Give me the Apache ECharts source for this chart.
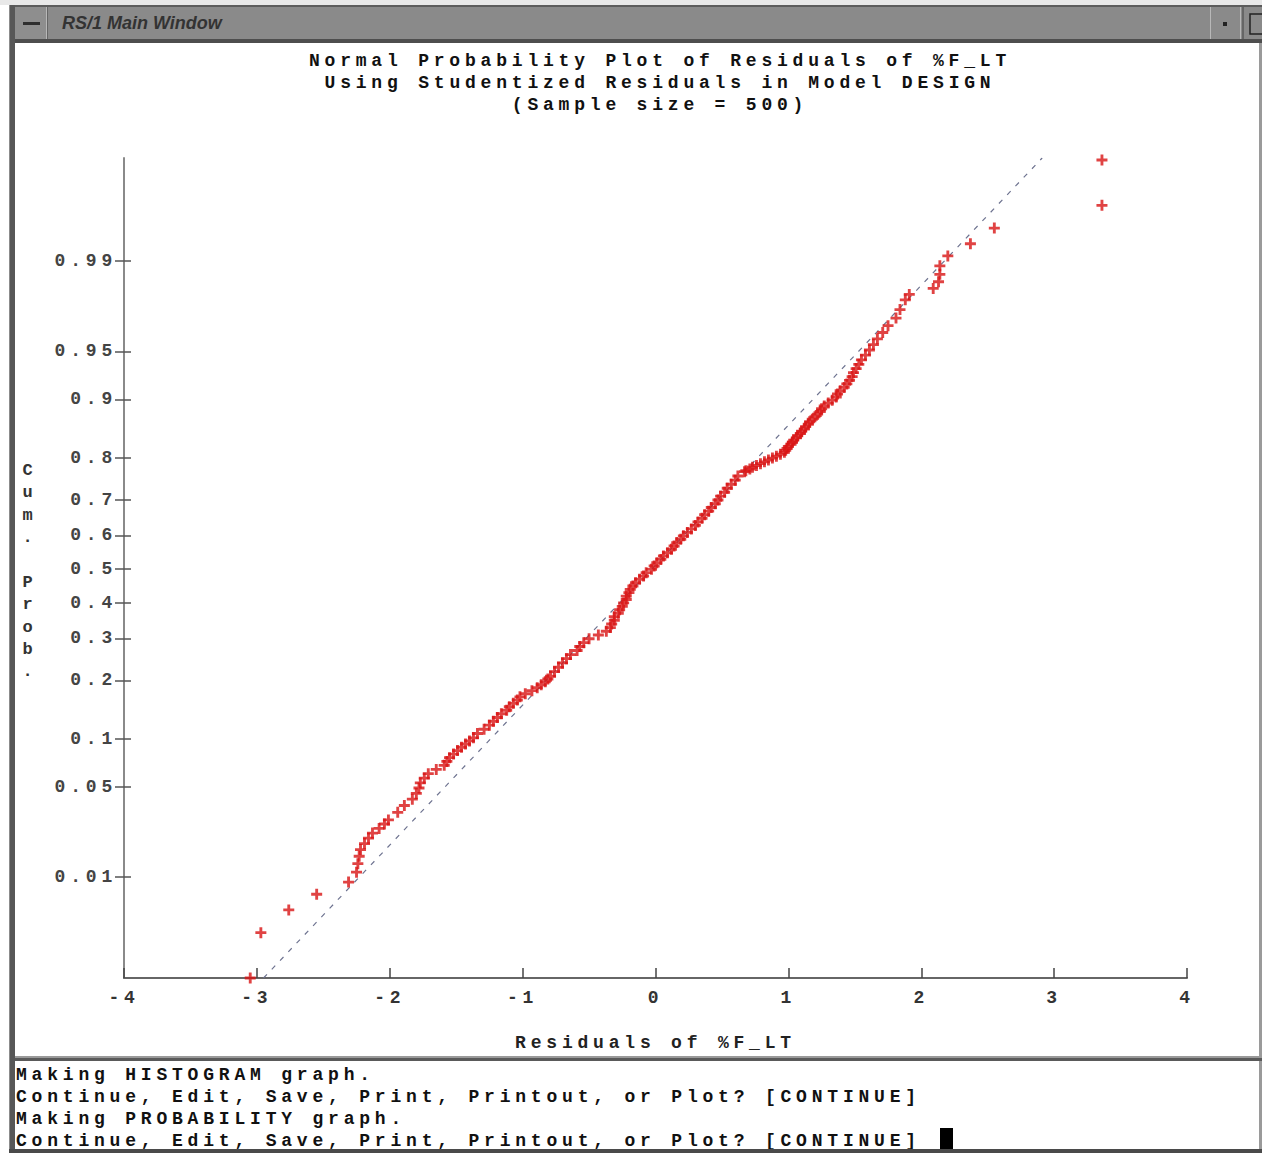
<!DOCTYPE html>
<html>
<head>
<meta charset="utf-8">
<script src="https://cdn.jsdelivr.net/npm/echarts@6/dist/echarts.min.js"></script>
<style>
html,body{margin:0;padding:0;background:#fff;}
#chart{width:1262px;height:1153px;}
#chart text{letter-spacing:4.8px;}
#chart text[style*="italic"]{letter-spacing:0px;}
</style>
</head>
<body>
<div id="chart"></div>
<script>
// ---- data ----
// cumulative probability (plotting position) of each plotted residual
const cumProb = [
0.001,0.003,0.005,0.007,0.009,0.011,0.013,0.015,0.017,0.019,0.021,0.023,0.025,0.027,0.029,
0.033,0.037,0.041,0.045,0.049,0.053,0.057,0.061,0.065,0.069,0.073,0.077,0.081,0.085,0.089,0.093,0.097,0.101,
0.107,0.113,0.119,0.125,0.131,0.137,0.143,0.149,0.155,0.161,0.167,0.173,0.179,0.185,0.191,0.197,0.203,
0.209,0.219,0.229,0.239,0.249,0.259,0.269,0.279,0.289,0.299,0.309,0.319,0.329,0.339,0.349,0.359,0.369,0.379,0.389,0.399,0.409,0.419,0.429,0.439,0.449,0.459,0.469,0.479,0.489,0.499,0.509,0.519,0.529,0.539,0.549,0.559,0.569,0.579,0.589,0.599,0.609,0.619,0.629,0.639,0.649,0.659,0.669,0.679,0.689,0.699,0.709,0.719,0.729,0.739,0.749,0.759,0.769,
0.771,0.775,0.779,0.783,0.787,0.791,0.795,0.799,0.803,0.807,0.811,0.815,0.819,0.823,0.827,0.831,0.835,0.839,0.843,0.847,0.851,0.855,0.859,0.863,0.867,0.871,0.875,0.879,0.883,0.887,0.891,0.895,0.899,0.903,0.907,0.911,0.915,0.919,0.923,0.927,0.931,0.935,0.939,0.943,0.947,0.951,0.955,0.959,0.963,0.967,0.971,0.975,0.979,
0.981,0.983,0.985,0.987,0.989,0.991,0.993,0.995,0.997,0.999];
// studentized residuals (x) matching cumProb
const residuals = [
-3.05,-2.97,-2.76,-2.55,-2.31,-2.25,-2.24,-2.23,-2.22,-2.19,-2.16,-2.13,-2.08,-2.04,-2.01,
-1.94,-1.89,-1.83,-1.80,-1.78,-1.77,-1.74,-1.71,-1.65,-1.59,-1.57,-1.55,-1.52,-1.49,-1.46,-1.43,-1.40,-1.37,
-1.34,-1.29,-1.25,-1.22,-1.19,-1.16,-1.12,-1.10,-1.07,-1.04,-1.02,-0.98,-0.93,-0.89,-0.86,-0.83,-0.81,
-0.79,-0.76,-0.73,-0.70,-0.67,-0.64,-0.59,-0.57,-0.54,-0.50,-0.43,-0.37,-0.34,-0.33,-0.31,-0.31,-0.28,-0.27,-0.25,-0.24,-0.22,-0.22,-0.20,-0.19,-0.17,-0.15,-0.12,-0.09,-0.07,-0.03,-0.01,0.01,0.04,0.06,0.09,0.12,0.14,0.16,0.19,0.21,0.24,0.27,0.30,0.32,0.35,0.37,0.40,0.42,0.45,0.47,0.49,0.52,0.54,0.57,0.60,0.62,0.67,
0.68,0.71,0.73,0.76,0.79,0.82,0.85,0.88,0.91,0.94,0.97,0.98,0.99,1.00,1.02,1.03,1.04,1.06,1.07,1.09,1.10,1.12,1.13,1.15,1.16,1.18,1.20,1.22,1.24,1.25,1.27,1.30,1.33,1.36,1.37,1.39,1.42,1.44,1.46,1.48,1.49,1.51,1.53,1.55,1.58,1.61,1.64,1.67,1.71,1.75,1.81,1.84,1.88,
1.91,2.09,2.13,2.14,2.14,2.20,2.37,2.55,3.36,3.36];
// dashed reference line end points
const refLineResid = [-2.95, 2.91];
const refLineProb = [0.001, 0.99905];
// axis ticks
const yTickProbs = [0.01,0.05,0.1,0.2,0.3,0.4,0.5,0.6,0.7,0.8,0.9,0.95,0.99];
const yTickLabels = ['0.01','0.05','0.1','0.2','0.3','0.4','0.5','0.6','0.7','0.8','0.9','0.95','0.99'];
const titleLines = ['Normal Probability Plot of Residuals of %F_LT','Using Studentized Residuals in Model DESIGN','(Sample size = 500)'];
const xAxisTitle = 'Residuals of %F_LT';
const yAxisTitle = 'Cum. Prob.';
const consoleLines = ['Making HISTOGRAM graph.','Continue, Edit, Save, Print, Printout, or Plot? [CONTINUE]','Making PROBABILITY graph.','Continue, Edit, Save, Print, Printout, or Plot? [CONTINUE]'];
const windowTitle = 'RS/1 Main Window';

// inverse standard normal CDF (probability-axis transform)
function probit(p){
  const a=[-39.69683028665376,220.9460984245205,-275.9285104469687,138.3577518672690,-30.66479806614716,2.506628277459239];
  const b=[-54.47609879822406,161.5858368580409,-155.6989798598866,66.80131188771972,-13.28068155288572];
  const c=[-0.007784894002430293,-0.3223964580411365,-2.400758277161838,-2.549732539343734,4.374664141464968,2.938163982698783];
  const d=[0.007784695709041462,0.3224671290700398,2.445134137142996,3.754408661907416];
  const pl=0.02425;
  let q,r;
  if(p<pl){q=Math.sqrt(-2*Math.log(p));return (((((c[0]*q+c[1])*q+c[2])*q+c[3])*q+c[4])*q+c[5])/((((d[0]*q+d[1])*q+d[2])*q+d[3])*q+1);}
  if(p>1-pl){q=Math.sqrt(-2*Math.log(1-p));return -(((((c[0]*q+c[1])*q+c[2])*q+c[3])*q+c[4])*q+c[5])/((((d[0]*q+d[1])*q+d[2])*q+d[3])*q+1);}
  q=p-0.5;r=q*q;
  return (((((a[0]*r+a[1])*r+a[2])*r+a[3])*r+a[4])*r+a[5])*q/(((((b[0]*r+b[1])*r+b[2])*r+b[3])*r+b[4])*r+1);
}

const yTickZ = yTickProbs.map(probit);
function yLabel(v){
  for(let i=0;i<yTickZ.length;i++){ if(Math.abs(yTickZ[i]-v)<1e-6) return yTickLabels[i]; }
  return '';
}

const MONO = "'Liberation Mono', 'DejaVu Sans Mono', monospace";
const plus = 'path://M3.7,0h2.6v3.7h3.7v2.6h-3.7v3.7h-2.6v-3.7h-3.7v-2.6h3.7z';

const chart = echarts.init(document.getElementById('chart'), null, {renderer:'svg'});
const yMin = probit(0.001), yMax = probit(0.99905);

const option = {
  animation:false,
  backgroundColor:'#ffffff',
  title:{
    text: titleLines.join('\n'),
    left: 655, top: 45, textAlign:'center',
    textStyle:{fontFamily:MONO, fontSize:18, fontWeight:'bold', color:'#111', lineHeight:22}
  },
  grid:{left:124, right:75, top:158, bottom:175},
  xAxis:{
    type:'value', min:-4, max:4, interval:1,
    name: xAxisTitle, nameLocation:'middle', nameGap:56,
    nameTextStyle:{fontFamily:MONO, fontSize:18, fontWeight:'bold', color:'#222'},
    axisLine:{show:true, onZero:false, lineStyle:{color:'#666', width:2}},
    axisTick:{show:true, inside:true, length:10, lineStyle:{color:'#444', width:1.5}},
    axisLabel:{margin:11, fontFamily:MONO, fontSize:18, fontWeight:'bold', color:'#333'},
    splitLine:{show:false}
  },
  yAxis:[{
    type:'value', min:yMin, max:yMax,
    axisLine:{show:true, onZero:false, lineStyle:{color:'#8a8a8a', width:2}},
    axisTick:{show:true, inside:false, length:9, customValues:yTickZ, lineStyle:{color:'#555', width:1.5}},
    axisLabel:{show:true, customValues:yTickZ, formatter:yLabel, margin:7, fontFamily:MONO, fontSize:18, fontWeight:'bold', color:'#444'},
    splitLine:{show:false}
  },{
    type:'value', min:yMin, max:yMax, position:'left', offset:0,
    axisLine:{show:false, onZero:false},
    axisTick:{show:true, inside:true, length:7, customValues:yTickZ, lineStyle:{color:'#555', width:1.5}},
    axisLabel:{show:false},
    splitLine:{show:false}
  }],
  series:[{
    type:'line',
    data: refLineResid.map((r,i)=>[r, probit(refLineProb[i])]),
    showSymbol:false, symbol:'none',
    lineStyle:{color:'#6e7390', width:1.2, type:[5,7]},
    silent:true, z:1
  },{
    type:'scatter',
    data: cumProb.map((p,i)=>[residuals[i], probit(p)]),
    symbol: plus, symbolSize: 11,
    itemStyle:{color:'#d81414'},
    z:2
  }],
  graphic:[
    // window frame top
    {type:'rect', shape:{x:0,y:0,width:1262,height:5}, style:{fill:'#e8e8e8'}, silent:true},
    {type:'rect', shape:{x:8,y:5,width:1254,height:37}, style:{fill:'#8a8a8a'}, silent:true},
    {type:'rect', shape:{x:8,y:5,width:1254,height:2}, style:{fill:'#5c5c5c'}, silent:true},
    {type:'rect', shape:{x:8,y:39,width:1254,height:4}, style:{fill:'#4e4e4e'}, silent:true},
    // left border
    {type:'rect', shape:{x:0,y:5,width:9,height:1148}, style:{fill:'#ffffff'}, silent:true},
    {type:'rect', shape:{x:9,y:5,width:6,height:1148}, style:{fill:'#575757'}, silent:true},
    {type:'rect', shape:{x:9,y:5,width:1,height:1148}, style:{fill:'#8c8c8c'}, silent:true},
    // right border
    {type:'rect', shape:{x:1259,y:43,width:3,height:1110}, style:{fill:'#9a9a9a'}, silent:true},
    // title-bar buttons
    {type:'rect', shape:{x:15,y:7,width:31,height:32}, style:{fill:'#8e8e8e'}, silent:true},
    {type:'rect', shape:{x:23,y:22,width:17,height:3}, style:{fill:'#2e2e2e'}, silent:true},
    {type:'rect', shape:{x:46,y:7,width:1,height:32}, style:{fill:'#b8b8b8'}, silent:true},
    {type:'rect', shape:{x:47,y:7,width:1,height:32}, style:{fill:'#666'}, silent:true},
    {type:'rect', shape:{x:1210,y:7,width:1,height:32}, style:{fill:'#b8b8b8'}, silent:true},
    {type:'rect', shape:{x:1223,y:22,width:4,height:4}, style:{fill:'#222'}, silent:true},
    {type:'rect', shape:{x:1240,y:7,width:1,height:32}, style:{fill:'#b8b8b8'}, silent:true},
    {type:'rect', shape:{x:1242,y:7,width:2,height:32}, style:{fill:'#666'}, silent:true},
    {type:'rect', shape:{x:1250,y:14,width:14,height:20}, style:{fill:'none', stroke:'#222', lineWidth:1.5}, silent:true},
    {type:'text', x:62, y:23, style:{text:windowTitle, fill:'#333', font:"italic bold 18px 'Liberation Sans', Arial, sans-serif", textVerticalAlign:'middle', textAlign:'left'}, silent:true},
    // y axis name (stacked characters)
    {type:'text', x:30, y:459, style:{text:yAxisTitle.split('').join('\n'), fill:'#333', font:"bold 17px 'Liberation Mono', monospace", textAlign:'center', lineHeight:22.4}, silent:true},
    // console separator and text
    {type:'rect', shape:{x:15,y:1056,width:1247,height:2}, style:{fill:'#9a9a9a'}, silent:true},
    {type:'rect', shape:{x:15,y:1058,width:1247,height:3}, style:{fill:'#5a5a5a'}, silent:true},
    {type:'text', x:16, y:1064, style:{text:consoleLines.join('\n'), fill:'#111', font:"bold 18px 'Liberation Mono', monospace", textAlign:'left', lineHeight:22}, silent:true},
    {type:'rect', shape:{x:940,y:1128,width:13,height:22}, style:{fill:'#000'}, silent:true},
    {type:'rect', shape:{x:9,y:1149,width:1253,height:4}, style:{fill:'#4a4a4a'}, silent:true}
  ]
};
chart.setOption(option);
</script>
</body>
</html>
